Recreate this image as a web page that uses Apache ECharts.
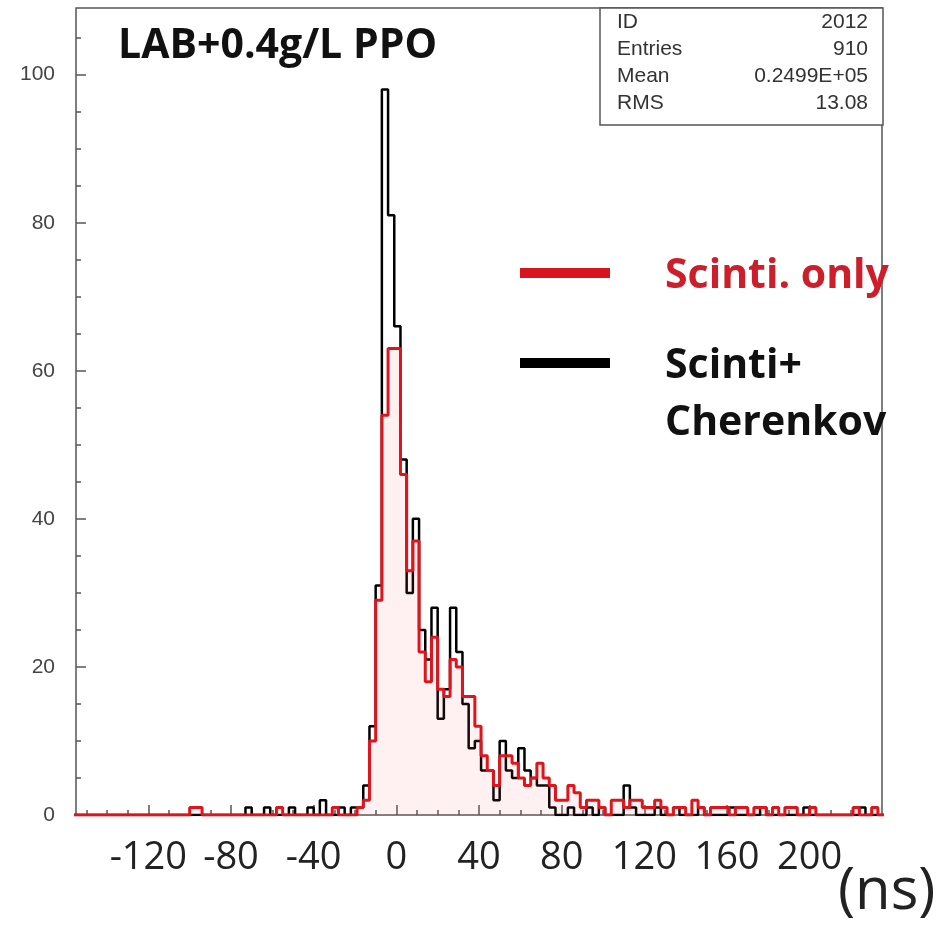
<!DOCTYPE html>
<html>
<head>
<meta charset="utf-8">
<script src="https://cdn.jsdelivr.net/npm/echarts@6/dist/echarts.min.js"></script>
<style>
  html, body { margin: 0; padding: 0; background: #fff; }
  #chart { width: 951px; height: 926px; }
</style>
</head>
<body>
<div id="chart"></div>
<script>
// histogram binning (ns)
var binStart = -157;
var binWidth = 3;

// Scinti + Cherenkov (black)
var blackCounts = [
    0, 0, 0, 0, 0, 0, 0, 0, 0, 0,
    0, 0, 0, 0, 0, 0, 0, 0, 0, 0,
    0, 0, 0, 0, 0, 0, 0, 0, 1, 0,
    0, 1, 0, 0, 0, 1, 0, 0, 1, 0,
    2, 0, 0, 1, 0, 1, 1, 4, 12, 31,
    98, 81, 66, 48, 30, 40, 25, 21, 28, 13,
    17, 28, 22, 15, 9, 10, 6, 6, 2, 10,
    6, 5, 9, 6, 5, 4, 4, 1, 0, 0,
    1, 0, 0, 1, 0, 1, 0, 0, 0, 4,
    1, 0, 0, 0, 1, 0, 0, 1, 0, 0,
    0, 1, 0, 0, 0, 0, 1, 0, 0, 0,
    0, 1, 0, 0, 0, 0, 0, 0, 1, 0,
    0, 0, 0, 0, 0, 0, 0, 1, 0, 0,
    0
];

// Scinti only (red)
var redCounts = [
    0, 0, 0, 0, 0, 0, 0, 0, 0, 0,
    0, 0, 0, 0, 0, 0, 0, 0, 0, 1,
    1, 0, 0, 0, 0, 0, 0, 0, 0, 0,
    0, 0, 0, 1, 0, 0, 0, 0, 0, 0,
    0, 0, 1, 0, 0, 0, 1, 2, 10, 29,
    54, 63, 63, 46, 33, 37, 22, 18, 24, 17,
    16, 21, 20, 16, 16, 12, 8, 6, 4, 8,
    8, 7, 5, 4, 5, 7, 5, 4, 2, 2,
    4, 3, 1, 2, 2, 1, 0, 2, 2, 1,
    2, 2, 1, 1, 2, 1, 0, 1, 1, 0,
    2, 1, 0, 1, 1, 1, 0, 1, 1, 0,
    1, 1, 0, 1, 0, 1, 1, 0, 0, 1,
    0, 0, 0, 0, 0, 0, 1, 0, 0, 1,
    0
];

var xTickLabels = [-120, -80, -40, 0, 40, 80, 120, 160, 200];
var yTickLabels = [0, 20, 40, 60, 80, 100];
var statsRows = [['ID', '2012'], ['Entries', '910'], ['Mean', '0.2499E+05'], ['RMS', '13.08']];

var xMin = -155, xMax = 235, yMax = 109;

// bin edges -> step points
function toSteps(counts) {
    var pts = counts.map(function (c, i) {
        return [binStart + i * binWidth, c];
    });
    pts.push([binStart + counts.length * binWidth, counts[counts.length - 1]]);
    return pts;
}

var xMinor = [];
for (var v = -150; v <= 230; v += 10) xMinor.push(v);
var yMinor = [];
for (var w = 0; w <= 105; w += 5) yMinor.push(w);

var frameColor = '#555';

var graphics = [
    { type: 'text', x: 118, y: 46, style: { text: 'LAB+0.4g/L PPO', font: 'bold 41px "Open Sans"', fill: '#111', verticalAlign: 'middle' } },
    { type: 'rect', shape: { x: 600, y: 8, width: 283, height: 117 }, style: { fill: '#fff', stroke: frameColor, lineWidth: 1.5 }, z: 10 },
    { type: 'rect', shape: { x: 520, y: 268, width: 90, height: 10 }, style: { fill: '#d8141e' }, z: 10 },
    { type: 'text', x: 665, y: 276, style: { text: 'Scinti. only', font: 'bold 41px "Open Sans"', fill: '#cc1f2b', verticalAlign: 'middle' }, z: 10 },
    { type: 'rect', shape: { x: 520, y: 358, width: 90, height: 10 }, style: { fill: '#000' }, z: 10 },
    { type: 'text', x: 665, y: 366, style: { text: 'Scinti+', font: 'bold 41px "Open Sans"', fill: '#111', verticalAlign: 'middle' }, z: 10 },
    { type: 'text', x: 665, y: 423, style: { text: 'Cherenkov', font: 'bold 41px "Open Sans"', fill: '#111', verticalAlign: 'middle' }, z: 10 },
    { type: 'text', x: 838, y: 892, style: { text: '(ns)', font: '58px "Open Sans"', fill: '#222', verticalAlign: 'middle' } }
];
statsRows.forEach(function (row, i) {
    var y = 22 + i * 27;
    graphics.push({ type: 'text', x: 617, y: y, z: 11, style: { text: row[0], font: '21px "Liberation Sans"', fill: '#333', verticalAlign: 'middle' } });
    graphics.push({ type: 'text', x: 868, y: y, z: 11, style: { text: row[1], font: '21px "Liberation Sans"', fill: '#333', align: 'right', verticalAlign: 'middle' } });
});

var myChart = echarts.init(document.getElementById('chart'));

var option = {
    animation: false,
    backgroundColor: '#fff',
    grid: {
        left: 76, right: 69, top: 8, bottom: 111,
        show: true, borderColor: frameColor, borderWidth: 1.5
    },
    xAxis: [{
        type: 'value', min: xMin, max: xMax, position: 'bottom',
        axisLine: { show: false, onZero: false },
        splitLine: { show: false },
        axisTick: { inside: true, length: 10, customValues: xTickLabels, lineStyle: { color: frameColor, width: 1.5 } },
        axisLabel: { customValues: xTickLabels, fontSize: 38, fontFamily: 'Open Sans', color: '#222', margin: 24 }
    }, {
        type: 'value', min: xMin, max: xMax, position: 'bottom',
        axisLine: { show: false, onZero: false },
        splitLine: { show: false },
        axisLabel: { show: false },
        axisTick: { inside: true, length: 5, customValues: xMinor, lineStyle: { color: frameColor, width: 1.5 } }
    }],
    yAxis: [{
        type: 'value', min: 0, max: yMax, position: 'left',
        axisLine: { show: false, onZero: false },
        splitLine: { show: false },
        axisTick: { inside: true, length: 10, customValues: yTickLabels, lineStyle: { color: frameColor, width: 1.5 } },
        axisLabel: { customValues: yTickLabels, fontSize: 21, fontFamily: 'Liberation Sans', color: '#444', margin: 21 }
    }, {
        type: 'value', min: 0, max: yMax, position: 'left',
        axisLine: { show: false, onZero: false },
        splitLine: { show: false },
        axisLabel: { show: false },
        axisTick: { inside: true, length: 5, customValues: yMinor, lineStyle: { color: frameColor, width: 1.5 } }
    }],
    graphic: graphics,
    series: [{
        name: 'Scinti+Cherenkov',
        type: 'line',
        step: 'end',
        symbol: 'none',
        xAxisIndex: 0,
        yAxisIndex: 0,
        data: toSteps(blackCounts),
        lineStyle: { color: '#000', width: 2.5 },
        z: 2
    }, {
        name: 'Scinti. only',
        type: 'line',
        step: 'end',
        symbol: 'none',
        xAxisIndex: 0,
        yAxisIndex: 0,
        data: toSteps(redCounts),
        lineStyle: { color: '#e0141c', width: 3 },
        areaStyle: { color: 'rgba(255, 90, 90, 0.12)' },
        z: 3
    }]
};

myChart.setOption(option);
</script>
</body>
</html>
